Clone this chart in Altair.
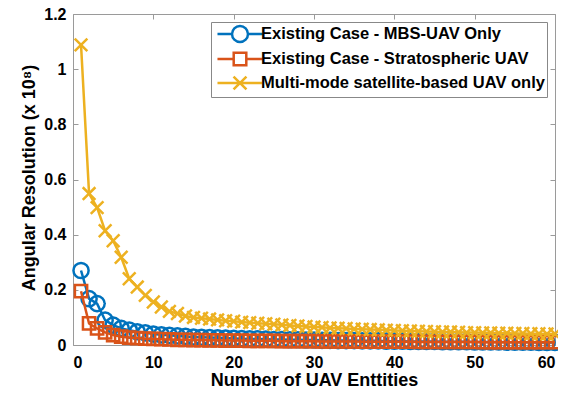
import altair as alt
import pandas as pd

x_vals = list(range(1, 61))

series_names = [
    "Existing Case - MBS-UAV Only",
    "Existing Case - Stratospheric UAV",
    "Multi-mode satellite-based UAV only",
]

mbs_uav = [
    0.270, 0.168, 0.150, 0.090, 0.072, 0.060, 0.054, 0.048, 0.044, 0.040,
    0.037, 0.035, 0.033, 0.031, 0.029, 0.028, 0.027, 0.026, 0.025, 0.024,
    0.023, 0.022, 0.022, 0.021, 0.020, 0.020, 0.019, 0.019, 0.018, 0.018,
    0.017, 0.017, 0.016, 0.016, 0.016, 0.015, 0.015, 0.015, 0.014, 0.014,
    0.014, 0.013, 0.013, 0.013, 0.013, 0.012, 0.012, 0.012, 0.012, 0.011,
    0.011, 0.011, 0.011, 0.010, 0.010, 0.010, 0.010, 0.009, 0.009, 0.009,
]

strato_uav = [
    0.195, 0.078, 0.060, 0.046, 0.036, 0.030, 0.027, 0.025, 0.023, 0.022,
    0.021, 0.020, 0.019, 0.019, 0.018, 0.018, 0.017, 0.017, 0.016, 0.016,
    0.016, 0.015, 0.015, 0.015, 0.015, 0.014, 0.014, 0.014, 0.014, 0.014,
    0.013, 0.013, 0.013, 0.013, 0.013, 0.012, 0.012, 0.012, 0.012, 0.012,
    0.012, 0.012, 0.011, 0.011, 0.011, 0.011, 0.011, 0.011, 0.011, 0.011,
    0.010, 0.010, 0.010, 0.010, 0.010, 0.010, 0.010, 0.010, 0.010, 0.010,
]

multi_mode = [
    1.088, 0.549, 0.498, 0.414, 0.378, 0.318, 0.240, 0.210, 0.180, 0.156,
    0.138, 0.122, 0.114, 0.105, 0.100, 0.097, 0.094, 0.091, 0.088, 0.086,
    0.083, 0.081, 0.079, 0.077, 0.075, 0.073, 0.071, 0.069, 0.067, 0.065,
    0.064, 0.062, 0.061, 0.060, 0.058, 0.057, 0.056, 0.055, 0.054, 0.053,
    0.052, 0.051, 0.050, 0.049, 0.048, 0.047, 0.047, 0.046, 0.045, 0.045,
    0.044, 0.044, 0.043, 0.043, 0.042, 0.042, 0.041, 0.041, 0.040, 0.040,
]

colors = ["#0072BD", "#D95319", "#EDB120"]
x_ticks = [0, 10, 20, 30, 40, 50, 60]
y_ticks = [0, 0.2, 0.4, 0.6, 0.8, 1.0, 1.2]

FONT = "Liberation Sans"
BOX = "#9a9a9a"
PLOT_W, PLOT_H = 482, 331

rows = []
for name, vals in zip(series_names, [mbs_uav, strato_uav, multi_mode]):
    for xv, yv in zip(x_vals, vals):
        rows.append({"x": xv, "value": yv, "series": name})
df = pd.DataFrame(rows)

marker_shapes = ["circle", "square", "M-1,-1L1,1M-1,1L1,-1"]
marker_sizes = [230, 150, 160]

legend_paths = [
    "M-2.65,0L-0.94,0M0.94,0L2.65,0M-0.94,0A0.94,0.94,0,1,1,0.94,0A0.94,0.94,0,1,1,-0.94,0",
    "M-2.65,0L-0.74,0M0.74,0L2.65,0M-0.74,-0.74L0.74,-0.74L0.74,0.74L-0.74,0.74Z",
    "M-2.65,0L2.65,0M-0.76,-0.76L0.76,0.76M-0.76,0.76L0.76,-0.76",
]

x_scale = alt.Scale(domain=[0, 60], nice=False, zero=False)
y_scale = alt.Scale(domain=[0, 1.2], nice=False)

main_x_axis = alt.Axis(
    orient="bottom", values=x_ticks[1:-1], ticks=False, tickSize=0, domain=False,
    grid=False, labelFlush=False, labelPadding=9, labelFontSize=16,
    title="Number of UAV Enttities", titleFontSize=18,
    titleY=40, titleBaseline="alphabetic",
)
end_x_axis = alt.Axis(
    orient="bottom", values=[x_ticks[0], x_ticks[-1]], ticks=False, tickSize=0,
    domain=False, grid=False, labelFlush=True, labelFlushOffset=0,
    labelPadding=9, labelFontSize=16, title=None,
)
main_y_axis = alt.Axis(
    orient="left", values=y_ticks, ticks=False, tickSize=0, domain=False, grid=False,
    labelPadding=7, labelFontSize=16, format="~g",
    title="Angular Resolution (x 10⁸)", titleFontSize=18,
    titleAngle=-90, titleX=-44, titleY=PLOT_H / 2 - 2, titleAlign="center",
    titleBaseline="middle",
)


def tick_axis(orient, values):
    return alt.Axis(
        orient=orient, values=values, offset=-5, tickSize=5, labels=False,
        domain=False, grid=False, title=None, tickColor=BOX, tickWidth=1,
    )


axis_sets = [
    (main_x_axis, main_y_axis),
    (tick_axis("bottom", x_ticks), tick_axis("left", y_ticks)),
    (tick_axis("top", x_ticks), tick_axis("right", y_ticks)),
    (end_x_axis, None),
]

base = alt.Chart(df)
layers = []
k = 0
for i, name in enumerate(series_names):
    sub = base.transform_filter(alt.datum.series == name)
    for kind in ("line", "point"):
        xa, ya = axis_sets[k] if k < len(axis_sets) else (None, None)
        k += 1
        if kind == "line":
            mark = sub.mark_line(strokeWidth=2.5, color=colors[i])
        else:
            mark = sub.mark_point(
                filled=False, strokeWidth=2.5, shape=marker_shapes[i],
                size=marker_sizes[i], opacity=1, color=colors[i],
            )
        layers.append(
            mark.encode(
                x=alt.X("x:Q", scale=x_scale, axis=xa),
                y=alt.Y("value:Q", scale=y_scale, axis=ya),
            )
        )

legend_props = dict(
    orient="none", legendX=138, legendY=8, title=None,
    fillColor="white", strokeColor="#888888", padding=2,
    labelFont=FONT, labelFontSize=16.5, labelFontWeight="bold", labelColor="black",
    labelOffset=11, symbolOffset=17, rowPadding=0, symbolSize=289,
    symbolStrokeWidth=2.5, symbolOpacity=1, labelLimit=400,
)

legend_layer = base.mark_point(filled=False, opacity=0, size=1).encode(
    x=alt.X("x:Q", scale=x_scale, axis=None),
    y=alt.Y("value:Q", scale=y_scale, axis=None),
    color=alt.Color(
        "series:N", scale=alt.Scale(domain=series_names, range=colors),
        legend=alt.Legend(**legend_props),
    ),
    shape=alt.Shape(
        "series:N",
        scale=alt.Scale(domain=series_names, range=legend_paths),
        legend=alt.Legend(**legend_props),
    ),
)
layers.append(legend_layer)

chart = (
    alt.layer(*layers)
    .resolve_axis(x="independent", y="independent")
    .properties(
        width=PLOT_W, height=PLOT_H, autosize="none",
        padding={"left": 65, "top": 6, "right": 3, "bottom": 41},
        background="white",
    )
    .configure_view(stroke=BOX, strokeWidth=1)
    .configure_axis(
        labelFont=FONT, labelFontWeight="bold", labelColor="black",
        titleFont=FONT, titleFontWeight="bold", titleColor="black",
    )
)

chart.save("out.html", embed_options={"renderer": "svg", "actions": False})
